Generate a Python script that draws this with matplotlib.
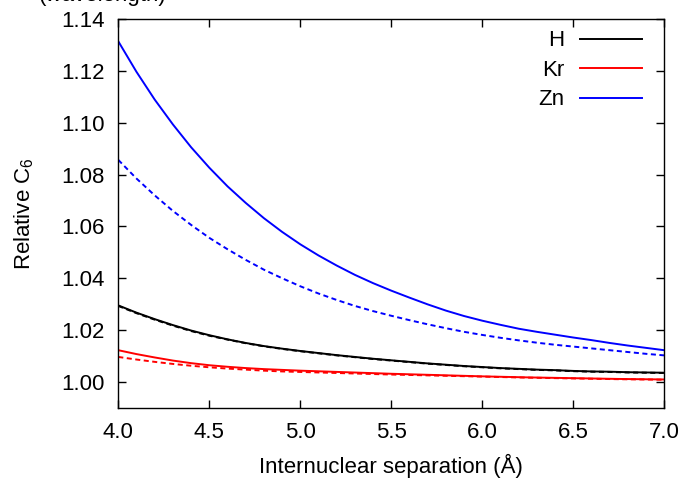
import matplotlib
matplotlib.use("Agg")
import matplotlib.pyplot as plt

plt.rcParams['font.family'] = ['Liberation Sans', 'DejaVu Sans']
plt.rcParams['mathtext.default'] = 'regular'

# --- data ---
sep_fine = [4.0, 4.1, 4.2, 4.3, 4.4, 4.5, 4.6, 4.7, 4.8, 4.9,
            5.0, 5.1, 5.2, 5.3, 5.4, 5.5, 5.6, 5.7, 5.8, 5.9,
            6.0, 6.1, 6.2, 6.3, 6.4, 6.5, 6.6, 6.7, 6.8, 6.9, 7.0]
zn_solid = [1.1315, 1.1197, 1.1090, 1.0994, 1.0906, 1.0827, 1.0755, 1.0691, 1.0632, 1.0579,
            1.0531, 1.0488, 1.0449, 1.0413, 1.0381, 1.0352, 1.0325, 1.0299, 1.0275, 1.0254,
            1.0236, 1.0220, 1.0205, 1.0193, 1.0182, 1.0171, 1.0161, 1.0150, 1.0140, 1.0131, 1.0122]
zn_dashed = [1.0857, 1.0785, 1.0720, 1.0660, 1.0606, 1.0556, 1.0512, 1.0471, 1.0433, 1.0400,
             1.0369, 1.0341, 1.0316, 1.0293, 1.0273, 1.0255, 1.0238, 1.0222, 1.0207, 1.0193,
             1.0181, 1.0170, 1.0160, 1.0151, 1.0143, 1.0136, 1.0129, 1.0122, 1.0115, 1.0108, 1.0102]
h_solid = [1.0295, 1.0267, 1.0242, 1.0219, 1.0198, 1.0180, 1.0164, 1.0150, 1.0138, 1.0128,
           1.0119, 1.0111, 1.0103, 1.0096, 1.0089, 1.0083, 1.0077, 1.0071, 1.0066, 1.0061,
           1.0057, 1.0053, 1.0050, 1.0047, 1.0045, 1.0042, 1.0040, 1.0039, 1.0037, 1.0036, 1.0035]
h_dashed = [1.0293, 1.0265, 1.0240, 1.0217, 1.0196, 1.0178, 1.0163, 1.0149, 1.0137, 1.0127,
            1.0118, 1.0110, 1.0102, 1.0095, 1.0088, 1.0082, 1.0076, 1.0070, 1.0065, 1.0060,
            1.0056, 1.0052, 1.0049, 1.0046, 1.0044, 1.0041, 1.0039, 1.0038, 1.0036, 1.0035, 1.0034]

sep_kr = [4.0, 4.1, 4.2, 4.3, 4.4, 4.5, 4.6, 4.7, 4.8, 4.9, 5.0,
          5.25, 5.5, 5.75, 6.0, 6.25, 6.5, 6.75, 7.0]
kr_solid = [1.0122, 1.0107, 1.0094, 1.0082, 1.0072, 1.0064, 1.0058, 1.0053, 1.0049, 1.0046, 1.0043,
            1.0037, 1.0031, 1.0026, 1.0021, 1.0017, 1.0014, 1.0011, 1.0009]
kr_dashed = [1.0096, 1.0086, 1.0077, 1.0069, 1.0062, 1.0056, 1.0051, 1.0047, 1.0043, 1.0040, 1.0038,
             1.0033, 1.0028, 1.0024, 1.0020, 1.0016, 1.0013, 1.0010, 1.0008]

xticks = [4.0, 4.5, 5.0, 5.5, 6.0, 6.5, 7.0]
yticks = [1.00, 1.02, 1.04, 1.06, 1.08, 1.10, 1.12, 1.14]

fig = plt.figure(figsize=(6.83, 4.78), dpi=100)
ax = fig.add_axes([0.1732, 0.1471, 0.7994, 0.8125])

lw = 1.4
dash = (0, (2.6, 1.8))
ax.plot(sep_fine, h_solid, color='black', lw=lw, label='H')
ax.plot(sep_kr, kr_solid, color='#ff0000', lw=lw, label='Kr')
ax.plot(sep_fine, zn_solid, color='#0000ff', lw=lw, label='Zn')
ax.plot(sep_fine, h_dashed, color='black', lw=lw, ls=dash)
ax.plot(sep_kr, kr_dashed, color='#ff0000', lw=lw, ls=dash)
ax.plot(sep_fine, zn_dashed, color='#0000ff', lw=lw, ls=dash)

ax.set_xlim(4.0, 7.0)
ax.set_ylim(0.99, 1.14)
ax.set_xticks(xticks)
ax.set_xticklabels([f'{v:.1f}' for v in xticks])
ax.set_yticks(yticks)
ax.set_yticklabels([f'{v:.2f}' for v in yticks])
ax.tick_params(direction='in', length=6, width=1, top=True, right=True,
               labelsize=16, pad=10)
for s in ax.spines.values():
    s.set_linewidth(1)

ax.set_xlabel('Internuclear separation (Å)', fontsize=16, labelpad=8)
ax.set_ylabel('Relative C$_6$', fontsize=16, labelpad=18)

ax.legend(loc='upper right', frameon=False, markerfirst=False, fontsize=16,
          handlelength=2.8, handletextpad=0.7, labelspacing=0.38,
          borderaxespad=0.1, bbox_to_anchor=(0.98, 1.0))

# clipped caption fragment from the top edge of the source image
fig.text(166 / 683, 0.997, '(wavelength)', fontsize=16, ha='right', va='baseline')

fig.savefig('out.png', dpi=100)
